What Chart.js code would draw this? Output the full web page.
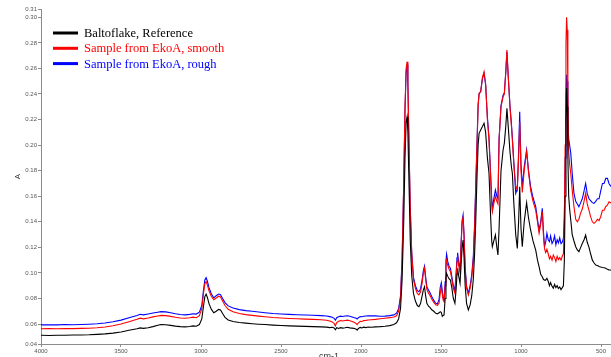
<!DOCTYPE html>
<html>
<head>
<meta charset="utf-8">
<title>IR spectra</title>
<script src="https://cdn.jsdelivr.net/npm/chart.js@4.4.1/dist/chart.umd.min.js"></script>
<style>
  html, body { margin: 0; padding: 0; overflow: hidden; background: #fff; }
  #wrap { width: 640px; height: 361px; }
  canvas { display: block; }
</style>
</head>
<body>
<div id="wrap"><canvas id="ir" width="640" height="361"></canvas></div>
<script>
// wavenumber grid, cm-1 (shared by the three spectra)
const wavenumbers = [
  4000, 3950, 3900, 3850, 3800, 3750, 3700, 3650, 3600, 3550, 3500, 3450, 3400, 3380, 3360, 3330,
  3300, 3270, 3250, 3220, 3190, 3160, 3130, 3100, 3070, 3050, 3030, 3010, 2995, 2985, 2976, 2968,
  2960, 2950, 2935, 2920, 2905, 2890, 2878, 2865, 2850, 2830, 2800, 2760, 2720, 2680, 2640, 2600,
  2550, 2500, 2450, 2400, 2350, 2300, 2250, 2215, 2195, 2180, 2168, 2160, 2152, 2140, 2128, 2115,
  2100, 2085, 2070, 2055, 2040, 2030, 2024, 2016, 2005, 1995, 1983, 1970, 1955, 1935, 1910, 1880,
  1850, 1820, 1795, 1778, 1765, 1753, 1743, 1733, 1725, 1718, 1712, 1707, 1700, 1692, 1683, 1672,
  1660, 1648, 1638, 1628, 1618, 1610, 1603, 1596, 1588, 1578, 1568, 1558, 1545, 1533, 1522, 1512,
  1505, 1498, 1492, 1487, 1481, 1474, 1469, 1465, 1458, 1450, 1441, 1432, 1423, 1413, 1405, 1400,
  1396, 1390, 1381, 1375, 1368, 1362, 1356, 1349, 1340, 1329, 1318, 1308, 1298, 1290, 1283, 1275,
  1268, 1262, 1252, 1241, 1231, 1221, 1210, 1200, 1190, 1183, 1179, 1170, 1160, 1151, 1144, 1137,
  1125, 1112, 1104, 1095, 1088, 1080, 1069, 1060, 1054, 1045, 1033, 1023, 1015, 1008, 1000, 992,
  980, 965, 953, 940, 925, 908, 897, 887, 877, 867, 860, 853, 846, 838, 830, 822,
  815, 806, 798, 790, 782, 774, 766, 758, 750, 742, 735, 729, 724, 719, 715, 711,
  707, 702, 696, 689, 680, 669, 658, 648, 638, 627, 617, 606, 596, 586, 575, 565,
  554, 544, 533, 522, 512, 502, 491, 481, 470, 460, 450, 440, 420, 400
];

// absorbance, Baltoflake reference (black)
const reference = [
  .0512, .0511, .0513, .0512, .0514, .0515, .0516, .0519, .0523, .0529, .0538, .0551, .0563, .0570, .0566, .0571,
  .0580, .0590, .0597, .0595, .0590, .0584, .0580, .0578, .0581, .0586, .0583, .0596, .0640, .0735, .0815, .0835,
  .0808, .0760, .0715, .0688, .0700, .0715, .0710, .0682, .0652, .0632, .0620, .0612, .0607, .0603, .0599, .0596,
  .0592, .0589, .0586, .0584, .0582, .0580, .0578, .0576, .0572, .0575, .0569, .0555, .0571, .0566, .0572, .0568,
  .0571, .0575, .0570, .0568, .0565, .0560, .0553, .0566, .0574, .0569, .0576, .0572, .0577, .0575, .0578, .0580,
  .0583, .0588, .0596, .0610, .0640, .0720, .0950, .1400, .1900, .2180, .2222, .2100, .1700, .1250, .0980, .0840,
  .0780, .0745, .0736, .0760, .0820, .0870, .0892, .0820, .0760, .0740, .0728, .0712, .0700, .0684, .0680, .0688,
  .0697, .0690, .0660, .0668, .0670, .0800, .0960, .0997, .0975, .0955, .0944, .0880, .0800, .0762, .0880, .0990,
  .1036, .0980, .0919, .1050, .1200, .1257, .1120, .0900, .0760, .0710, .0750, .0820, .0950, .1150, .1400, .1750,
  .2000, .2092, .2118, .2145, .2171, .2100, .1900, .1780, .1450, .1250, .1205, .1250, .1297, .1200, .1140, .1350,
  .1800, .1962, .2016, .2150, .2288, .2150, .1950, .1831, .1780, .1550, .1300, .1192, .1400, .1675, .1350, .1205,
  .1400, .1550, .1430, .1336, .1250, .1179, .1100, .1050, .0990, .0970, .0950, .0944, .0944, .0958, .0935, .0900,
  .0925, .0895, .0880, .0910, .0885, .0900, .0878, .0890, .0870, .0885, .0900, .1100, .1600, .2200, .2447, .2300,
  .1900, .1600, .1500, .1414, .1300, .1250, .1205, .1180, .1166, .1200, .1230, .1260, .1297, .1240, .1200, .1150,
  .1100, .1080, .1062, .1058, .1050, .1046, .1042, .1040, .1036, .1028, .1024, .1023, .1018, .1012
];

// absorbance, sample from EkoA, smooth (red)
const smooth = [
  .0563, .0564, .0563, .0565, .0564, .0566, .0567, .0571, .0577, .0587, .0600, .0618, .0637, .0646, .0641, .0648,
  .0656, .0663, .0668, .0666, .0660, .0653, .0647, .0645, .0649, .0654, .0650, .0666, .0720, .0835, .0915, .0932,
  .0905, .0860, .0815, .0790, .0804, .0818, .0812, .0780, .0745, .0716, .0696, .0682, .0674, .0668, .0662, .0657,
  .0651, .0647, .0644, .0641, .0639, .0637, .0634, .0630, .0624, .0617, .0605, .0585, .0612, .0622, .0628, .0624,
  .0628, .0631, .0626, .0620, .0612, .0603, .0595, .0610, .0622, .0620, .0627, .0629, .0632, .0634, .0637, .0642,
  .0646, .0650, .0655, .0665, .0700, .0800, .1100, .1700, .2300, .2600, .2653, .2500, .2000, .1500, .1150, .0950,
  .0880, .0840, .0828, .0850, .0920, .1000, .1036, .0950, .0870, .0842, .0822, .0796, .0770, .0750, .0746, .0765,
  .0835, .0892, .0835, .0790, .0775, .0900, .1060, .1100, .1060, .1030, .1010, .0950, .0880, .0842, .0980, .1090,
  .1127, .1060, .1000, .1200, .1390, .1440, .1280, .1020, .0880, .0827, .0880, .0960, .1100, .1350, .1650, .2000,
  .2300, .2405, .2418, .2530, .2574, .2480, .2200, .2040, .1750, .1550, .1480, .1540, .1600, .1560, .1540, .2040,
  .2300, .2379, .2400, .2580, .2744, .2550, .2300, .2150, .2040, .1850, .1680, .1649, .1900, .2183, .1800, .1630,
  .1800, .1950, .1790, .1649, .1560, .1490, .1400, .1310, .1380, .1480, .1300, .1192, .1160, .1185, .1150, .1110,
  .1130, .1100, .1140, .1120, .1090, .1130, .1105, .1120, .1100, .1130, .1150, .1400, .2000, .2800, .3000, .2900,
  .2400, .1950, .1850, .1780, .1650, .1520, .1420, .1400, .1420, .1470, .1500, .1560, .1623, .1540, .1490, .1440,
  .1400, .1388, .1400, .1420, .1410, .1440, .1490, .1490, .1520, .1530, .1557, .1550, .1545, .1540
];

// absorbance, sample from EkoA, rough (blue)
const rough = [
  .0594, .0595, .0594, .0596, .0595, .0597, .0599, .0602, .0608, .0618, .0631, .0650, .0667, .0677, .0672, .0679,
  .0686, .0693, .0697, .0695, .0689, .0681, .0675, .0672, .0676, .0681, .0678, .0693, .0745, .0860, .0945, .0963,
  .0935, .0885, .0835, .0805, .0822, .0835, .0830, .0800, .0768, .0742, .0726, .0713, .0705, .0700, .0694, .0689,
  .0683, .0679, .0676, .0673, .0671, .0669, .0666, .0663, .0658, .0653, .0645, .0630, .0650, .0658, .0662, .0659,
  .0663, .0665, .0661, .0656, .0650, .0645, .0640, .0650, .0658, .0657, .0661, .0663, .0664, .0665, .0664, .0661,
  .0662, .0666, .0672, .0685, .0720, .0820, .1120, .1690, .2270, .2570, .2630, .2480, .1980, .1500, .1160, .0965,
  .0900, .0862, .0853, .0875, .0945, .1020, .1054, .0970, .0890, .0866, .0844, .0815, .0785, .0762, .0758, .0795,
  .0885, .0923, .0860, .0805, .0788, .0930, .1100, .1148, .1090, .1055, .1036, .0970, .0900, .0866, .1010, .1120,
  .1158, .1090, .1023, .1220, .1410, .1453, .1300, .1040, .0895, .0840, .0900, .0985, .1130, .1380, .1680, .2020,
  .2320, .2400, .2420, .2520, .2560, .2470, .2220, .2060, .1780, .1580, .1500, .1580, .1649, .1600, .1580, .2050,
  .2310, .2390, .2410, .2570, .2730, .2540, .2310, .2170, .2060, .1870, .1623, .1660, .1950, .2261, .1850, .1675,
  .1830, .1962, .1800, .1675, .1590, .1518, .1420, .1336, .1400, .1505, .1330, .1205, .1240, .1310, .1260, .1245,
  .1290, .1230, .1250, .1290, .1220, .1260, .1235, .1275, .1230, .1240, .1270, .1450, .1900, .2400, .2550, .2500,
  .2200, .2050, .2000, .1937, .1780, .1623, .1560, .1540, .1518, .1550, .1580, .1640, .1700, .1620, .1580, .1565,
  .1550, .1544, .1560, .1580, .1580, .1640, .1700, .1700, .1740, .1740, .1700, .1680, .1690, .1680
];

const seriesNames = ['Baltoflake, Reference', 'Sample from EkoA, smooth', 'Sample from EkoA, rough'];
const seriesColors = ['#000000', '#ff0000', '#0000ff'];

// axis ticks as printed on the original
const xTickValues = [4000, 3500, 3000, 2500, 2000, 1500, 1000, 500, 400];
const yMin = 0.0444;
const yMax = 0.3065;
const yTickValues = [0.06, 0.08, 0.10, 0.12, 0.14, 0.16, 0.18, 0.20, 0.22, 0.24, 0.26, 0.28, 0.30];

const spectra = [reference, smooth, rough];

// legend drawn inside the plot, top left, coloured text
const insideLegend = {
  id: 'insideLegend',
  afterDraw(chart) {
    const { ctx, chartArea } = chart;
    const x0 = chartArea.left + 12;
    let y = chartArea.top + 24;
    ctx.save();
    ctx.font = '12.5px "Liberation Serif", "Times New Roman", serif';
    ctx.textBaseline = 'alphabetic';
    chart.data.datasets.forEach((ds) => {
      ctx.strokeStyle = ds.borderColor;
      ctx.lineWidth = 3;
      ctx.beginPath();
      ctx.moveTo(x0, y);
      ctx.lineTo(x0 + 25, y);
      ctx.stroke();
      ctx.fillStyle = ds.borderColor;
      ctx.fillText(ds.label, x0 + 31, y + 4);
      y += 15.3;
    });
    ctx.restore();
  }
};

const axisGrey = '#8c8c8c';
const tickFont = { family: '"Liberation Sans", Arial, sans-serif', size: 6 };

new Chart(document.getElementById('ir'), {
  type: 'line',
  data: {
    datasets: spectra.map((vals, i) => ({
      label: seriesNames[i],
      data: wavenumbers.map((w, j) => ({ x: w, y: vals[j] })),
      borderColor: seriesColors[i],
      borderWidth: 1.1,
      pointRadius: 0,
      tension: 0,
      fill: false
    }))
  },
  options: {
    responsive: false,
    animation: false,
    devicePixelRatio: 1,
    layout: { padding: { left: 0, top: 9, right: 23, bottom: 0 } },
    plugins: { legend: { display: false }, tooltip: { enabled: false } },
    scales: {
      x: {
        type: 'linear',
        reverse: true,
        min: 400,
        max: 4000,
        afterBuildTicks: (axis) => { axis.ticks = xTickValues.map(v => ({ value: v })); },
        afterFit: (axis) => { axis.height = 17; },
        grid: { drawOnChartArea: false, drawTicks: true, tickLength: 3, color: axisGrey },
        border: { display: true, color: axisGrey, width: 1 },
        ticks: {
          font: tickFont, color: '#555', padding: 1, maxRotation: 0, autoSkip: false,
          callback: (v) => String(v)
        },
        title: {
          display: true, text: 'cm-1', color: '#333', padding: 0,
          font: { family: '"Liberation Sans", Arial, sans-serif', size: 9, lineHeight: 1 }
        }
      },
      y: {
        type: 'linear',
        min: yMin,
        max: yMax,
        afterBuildTicks: (axis) => {
          axis.ticks = [yMin, ...yTickValues, yMax].map(v => ({ value: v }));
        },
        afterFit: (axis) => { axis.width = 41; },
        grid: { drawOnChartArea: false, drawTicks: true, tickLength: 3, color: axisGrey },
        border: { display: true, color: axisGrey, width: 1 },
        ticks: {
          font: tickFont, color: '#555', padding: 1, autoSkip: false,
          callback: (v) => Number(v).toFixed(2)
        },
        title: {
          display: true, text: 'A', color: '#333', padding: { top: 14, bottom: 0 },
          font: { family: '"Liberation Sans", Arial, sans-serif', size: 8, lineHeight: 1 }
        }
      }
    }
  },
  plugins: [insideLegend]
});
</script>
</body>
</html>
